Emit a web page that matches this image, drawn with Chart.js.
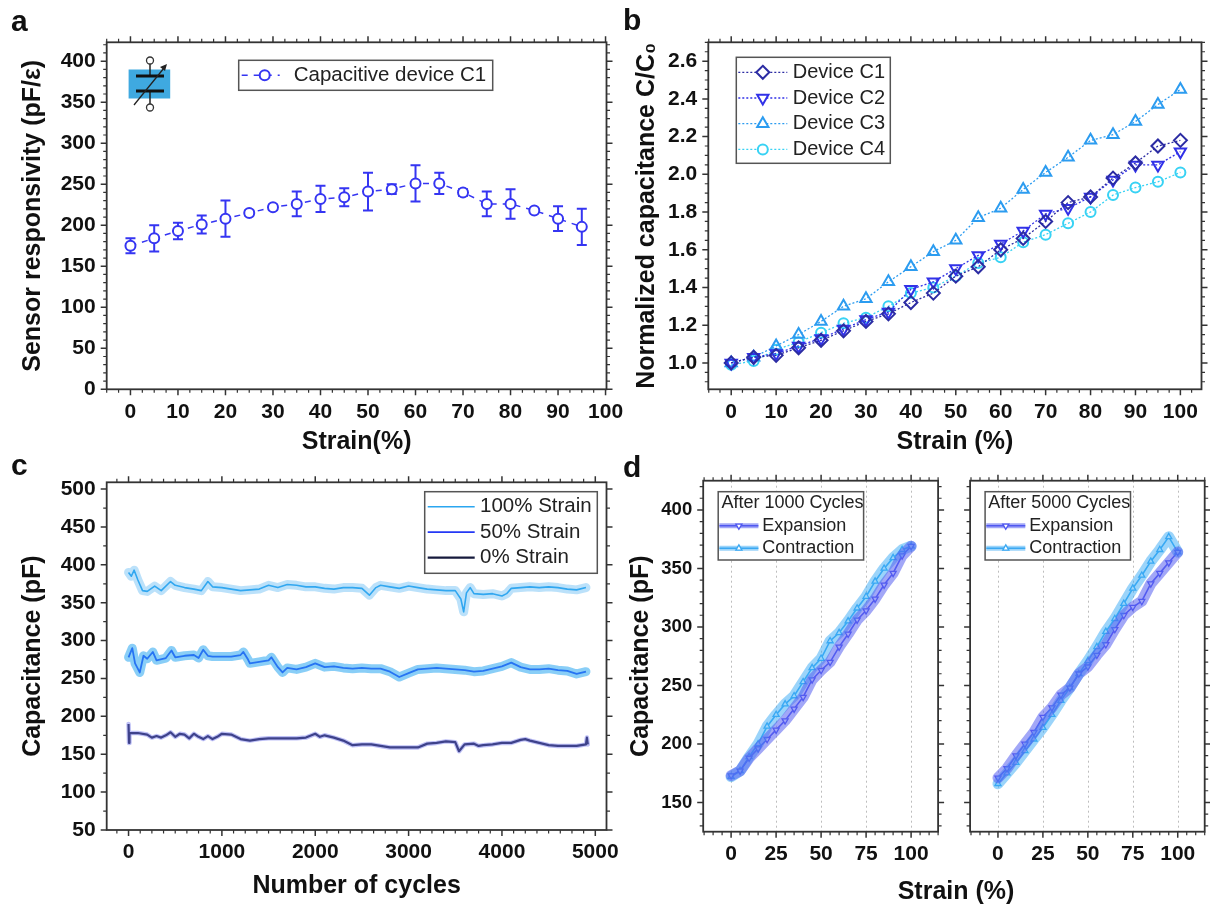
<!DOCTYPE html>
<html>
<head>
<meta charset="utf-8">
<script src="https://cdn.jsdelivr.net/npm/chart.js@4.4.0/dist/chart.umd.min.js"></script>
<style>
  body { margin: 0; background: #fff; }
  #fig { position: relative; width: 1210px; height: 904px; background: #fff; overflow: hidden;
         font-family: "Liberation Sans", Arial, sans-serif; color: #111; }
  canvas { position: absolute; }
  .letter { position: absolute; font-weight: bold; font-size: 30px; line-height: 1; }
  .xtitle { position: absolute; font-weight: bold; font-size: 25px; line-height: 1; transform: translate(-50%, -50%); white-space: nowrap; }
</style>
</head>
<body>
<div id="fig">
  <canvas id="chartA" width="640" height="470" style="left:0;top:0"></canvas>
  <canvas id="chartB" width="590" height="470" style="left:620px;top:0"></canvas>
  <canvas id="chartC" width="640" height="454" style="left:0;top:450px"></canvas>
  <canvas id="chartD1" width="330" height="454" style="left:620px;top:450px"></canvas>
  <canvas id="chartD2" width="260" height="454" style="left:950px;top:450px"></canvas>

  <div class="letter" style="left:11px;top:6px">a</div>
  <div class="letter" style="left:623px;top:5px">b</div>
  <div class="letter" style="left:11px;top:450px">c</div>
  <div class="letter" style="left:623px;top:452px">d</div>
  <div class="xtitle" style="left:956px;top:890px">Strain (%)</div>

  <!-- variable capacitor symbol -->
  <svg style="position:absolute;left:120px;top:50px" width="60" height="65" viewBox="120 50 60 65">
    <rect x="128.6" y="69.5" width="41.6" height="29" fill="#3fa9e0"/>
    <line x1="150" y1="64" x2="150" y2="76" stroke="#222" stroke-width="1.5"/>
    <line x1="150" y1="91" x2="150" y2="104" stroke="#222" stroke-width="1.5"/>
    <line x1="136" y1="76" x2="164" y2="76" stroke="#111" stroke-width="3"/>
    <line x1="136" y1="91" x2="164" y2="91" stroke="#111" stroke-width="3"/>
    <circle cx="150" cy="60.5" r="3.5" fill="#fff" stroke="#333" stroke-width="1.3"/>
    <circle cx="150" cy="107.5" r="3.5" fill="#fff" stroke="#333" stroke-width="1.3"/>
    <line x1="134" y1="105" x2="164" y2="68" stroke="#222" stroke-width="1.3"/>
    <polygon points="167,64 160,67 165,71" fill="#222"/>
  </svg>
</div>

<script>
// ---- panel a: sensor responsivity
const strainA = [0, 5, 10, 15, 20, 25, 30, 35, 40, 45, 50, 55, 60, 65, 70, 75, 80, 85, 90, 95];
const respA   = [175, 184, 193, 201, 208, 215, 222, 226, 232, 234, 241, 244, 251, 251, 240, 226, 226, 218, 208, 198];
const errA    = [9, 16, 10, 11, 22, 3, 3, 15, 16, 11, 23, 6, 22, 13, 4, 15, 18, 2, 15, 22];
const ticksAX = [0, 10, 20, 30, 40, 50, 60, 70, 80, 90, 100];
const ticksAY = [0, 50, 100, 150, 200, 250, 300, 350, 400];

// ---- panel b: normalized capacitance
const strainB = [0, 5, 10, 15, 20, 25, 30, 35, 40, 45, 50, 55, 60, 65, 70, 75, 80, 85, 90, 95, 100];
const devC1 = [1.00, 1.03, 1.04, 1.08, 1.12, 1.17, 1.22, 1.26, 1.32, 1.37, 1.46, 1.51, 1.60, 1.66, 1.75, 1.85, 1.88, 1.98, 2.06, 2.15, 2.18];
const devC2 = [1.00, 1.03, 1.05, 1.09, 1.13, 1.18, 1.23, 1.27, 1.39, 1.43, 1.50, 1.57, 1.63, 1.70, 1.79, 1.82, 1.88, 1.97, 2.05, 2.05, 2.12];
const devC3 = [1.00, 1.03, 1.09, 1.15, 1.22, 1.30, 1.34, 1.43, 1.51, 1.59, 1.65, 1.77, 1.82, 1.92, 2.01, 2.09, 2.18, 2.21, 2.28, 2.37, 2.45];
const devC4 = [0.99, 1.01, 1.07, 1.11, 1.16, 1.21, 1.24, 1.30, 1.37, 1.40, 1.46, 1.53, 1.56, 1.64, 1.68, 1.74, 1.80, 1.89, 1.93, 1.96, 2.01];
const ticksBX = [0, 10, 20, 30, 40, 50, 60, 70, 80, 90, 100];
const ticksBY = [1.0, 1.2, 1.4, 1.6, 1.8, 2.0, 2.2, 2.4, 2.6];

// ---- panel c: cycling
const cyc100 = [0, 30, 60, 100, 150, 200, 280, 350, 450, 500, 600, 700, 780, 850, 900, 1000, 1100, 1200, 1300, 1400,
                1500, 1600, 1700, 1800, 1900, 2000, 2100, 2200, 2300, 2400, 2500, 2580, 2650, 2700, 2800, 2900, 3000, 3100, 3200, 3300,
                3400, 3500, 3560, 3590, 3620, 3660, 3700, 3800, 3900, 4000, 4050, 4100, 4200, 4300, 4400, 4500, 4600, 4700, 4800, 4900];
const cap100 = [390, 385, 393, 380, 366, 365, 372, 366, 378, 373, 370, 368, 366, 378, 371, 370, 368, 366, 367, 368,
                373, 370, 374, 373, 371, 371, 369, 368, 370, 370, 369, 360, 370, 373, 371, 369, 372, 370, 368, 367,
                366, 366, 355, 338, 363, 370, 362, 361, 362, 359, 362, 369, 370, 371, 370, 371, 370, 368, 367, 370];
const cyc50 = [0, 40, 70, 120, 160, 200, 260, 300, 400, 460, 500, 600, 700, 750, 800, 850, 900, 1000, 1100, 1200,
               1230, 1280, 1300, 1400, 1500, 1530, 1600, 1650, 1700, 1800, 1900, 2000, 2100, 2200, 2300, 2400, 2500, 2600, 2700, 2800,
               2900, 3000, 3100, 3200, 3300, 3400, 3500, 3600, 3700, 3800, 3900, 4000, 4100, 4200, 4300, 4400, 4500, 4600, 4700, 4800, 4900];
const cap50 = [278, 290, 270, 258, 280, 276, 285, 274, 277, 287, 278, 280, 281, 277, 288, 280, 279, 279, 279, 281,
               285, 275, 270, 272, 274, 278, 265, 258, 264, 262, 265, 270, 265, 266, 264, 263, 264, 263, 263, 259,
               252, 257, 262, 263, 264, 263, 262, 261, 259, 260, 263, 266, 271, 265, 262, 262, 263, 261, 260, 256, 259];
const cyc0 = [0, 5, 10, 100, 200, 250, 300, 350, 400, 450, 500, 550, 600, 650, 700, 750, 800, 850, 900, 950,
              1000, 1100, 1200, 1300, 1400, 1500, 1600, 1700, 1800, 1900, 2000, 2050, 2100, 2200, 2300, 2400, 2500, 2600, 2700, 2800,
              2900, 3000, 3100, 3200, 3300, 3400, 3500, 3540, 3600, 3700, 3750, 3800, 3900, 4000, 4100, 4200, 4250, 4300, 4400, 4500,
              4600, 4700, 4800, 4900, 4910, 4920];
const cap0 = [190, 165, 178, 178, 176, 172, 174, 172, 175, 179, 173, 177, 176, 171, 177, 173, 170, 174, 170, 173,
              177, 176, 170, 168, 170, 171, 171, 171, 171, 172, 177, 173, 175, 172, 168, 162, 163, 163, 161, 159,
              159, 159, 159, 164, 165, 167, 166, 154, 163, 164, 161, 162, 163, 165, 165, 169, 170, 168, 165, 162,
              161, 161, 161, 163, 172, 163];
const ticksCX = [0, 1000, 2000, 3000, 4000, 5000];
const ticksCY = [50, 100, 150, 200, 250, 300, 350, 400, 450, 500];

// ---- panel d: hysteresis
const strainD = [0, 5, 10, 15, 20, 25, 30, 35, 40, 45, 50, 55, 60, 65, 70, 75, 80, 85, 90, 95, 100];
const exp1000 = [173, 177, 188, 196, 204, 212, 220, 230, 240, 255, 263, 270, 283, 294, 306, 314, 324, 336, 346, 361, 369];
const con1000 = [172, 177, 189, 200, 215, 225, 234, 241, 253, 265, 273, 288, 295, 305, 316, 326, 339, 350, 359, 366, 369];
const exp5000 = [171, 179, 190, 200, 210, 223, 231, 242, 248, 260, 266, 276, 285, 298, 310, 317, 322, 337, 346, 355, 364];
const con5000 = [166, 175, 184, 194, 204, 214, 225, 237, 248, 260, 271, 283, 296, 307, 320, 333, 344, 356, 366, 377, 364];
const ticksDX = [0, 25, 50, 75, 100];
const ticksDY = [150, 200, 250, 300, 350, 400];

Chart.defaults.font.family = "'Liberation Sans', Arial, sans-serif";
Chart.defaults.color = '#111';

const pts = (xs, ys) => xs.map((x, i) => ({x: x, y: ys[i]}));

function drawMarker(ctx, style, rot, x, y, r) {
  ctx.beginPath();
  if (style === 'circle') {
    ctx.arc(x, y, r, 0, Math.PI * 2);
  } else if (style === 'rectRot') {
    ctx.moveTo(x, y - r); ctx.lineTo(x + r, y); ctx.lineTo(x, y + r); ctx.lineTo(x - r, y); ctx.closePath();
  } else {
    let a = (rot || 0) * Math.PI / 180;
    ctx.moveTo(x + Math.sin(a) * r, y - Math.cos(a) * r);
    for (let k = 0; k < 2; k++) {
      a += Math.PI * 2 / 3;
      ctx.lineTo(x + Math.sin(a) * r, y - Math.cos(a) * r);
    }
    ctx.closePath();
  }
}

// frame around plot area + major/minor ticks on all four sides
function frameTicks(xMinor, yMinor, vgrid) {
  return {
    id: 'frameTicks',
    beforeDatasetsDraw(chart) {
      if (!vgrid) return;
      const {ctx, chartArea: a, scales: {x}} = chart;
      ctx.save();
      ctx.strokeStyle = '#bdbdbd'; ctx.lineWidth = 1; ctx.setLineDash([2, 3]);
      x.ticks.forEach(t => {
        const px = Math.round(x.getPixelForValue(t.value)) + 0.5;
        ctx.beginPath(); ctx.moveTo(px, a.top); ctx.lineTo(px, a.bottom); ctx.stroke();
      });
      ctx.restore();
    },
    afterDatasetsDraw(chart) {
      const {ctx, chartArea: a, scales: {x, y}} = chart;
      ctx.save();
      ctx.strokeStyle = '#333';
      const marks = (scale, step, len, horiz) => {
        const majors = scale.ticks.map(t => t.value);
        const vals = [];
        if (len > 4) vals.push(...majors);
        else {
          for (let k = Math.ceil(scale.min / step - 1e-9); k * step <= scale.max + 1e-9; k++) {
            const v = k * step;
            if (!majors.some(m => Math.abs(m - v) < step * 1e-3)) vals.push(v);
          }
        }
        vals.forEach(v => {
          const p = scale.getPixelForValue(v);
          ctx.beginPath();
          if (horiz) {
            ctx.moveTo(p, a.bottom); ctx.lineTo(p, a.bottom + len);
            ctx.moveTo(p, a.top); ctx.lineTo(p, a.top - len);
          } else {
            ctx.moveTo(a.left, p); ctx.lineTo(a.left - len, p);
            ctx.moveTo(a.right, p); ctx.lineTo(a.right + len, p);
          }
          ctx.stroke();
        });
      };
      ctx.lineWidth = 1.5;
      marks(x, 0, 6, true); marks(y, 0, 6, false);
      ctx.lineWidth = 1.2;
      marks(x, xMinor, 3.5, true); marks(y, yMinor, 3.5, false);
      ctx.lineWidth = 1.8;
      ctx.strokeRect(a.left, a.top, a.right - a.left, a.bottom - a.top);
      ctx.restore();
    }
  };
}

// boxed legend placed inside the plot area
function boxLegend(cfg) {
  return {
    id: 'boxLegend',
    afterDraw(chart) {
      const {ctx, chartArea} = chart;
      const x0 = chartArea.left + cfg.x, y0 = chartArea.top + cfg.y;
      ctx.save();
      ctx.fillStyle = '#fff';
      ctx.fillRect(x0, y0, cfg.w, cfg.h);
      ctx.strokeStyle = '#555'; ctx.lineWidth = 1.5;
      ctx.strokeRect(x0, y0, cfg.w, cfg.h);
      ctx.font = cfg.font;
      ctx.textBaseline = 'middle';
      let row = 0;
      if (cfg.title) {
        ctx.fillStyle = '#222';
        ctx.fillText(cfg.title, x0 + cfg.titleX, y0 + cfg.rowY);
        row = 1;
      }
      cfg.items.forEach((it, i) => {
        const ds = chart.data.datasets[it.ds];
        const y = y0 + cfg.rowY + (row + i) * cfg.rowH;
        const lx0 = x0 + cfg.lineX0, lx1 = x0 + cfg.lineX1;
        if (it.band !== undefined) {
          const b = chart.data.datasets[it.band];
          ctx.strokeStyle = b.borderColor; ctx.lineWidth = 5;
          ctx.beginPath(); ctx.moveTo(lx0, y); ctx.lineTo(lx1, y); ctx.stroke();
        }
        ctx.strokeStyle = ds.borderColor;
        ctx.lineWidth = ds.borderWidth;
        ctx.setLineDash(ds.borderDash || []);
        ctx.beginPath(); ctx.moveTo(lx0, y); ctx.lineTo(lx1, y); ctx.stroke();
        ctx.setLineDash([]);
        if (ds.pointRadius > 0) {
          drawMarker(ctx, ds.pointStyle, ds.pointRotation, x0 + cfg.markX, y, ds.pointRadius);
          ctx.fillStyle = '#fff'; ctx.fill();
          ctx.strokeStyle = ds.pointBorderColor; ctx.lineWidth = ds.pointBorderWidth;
          ctx.stroke();
        }
        ctx.fillStyle = '#222';
        ctx.fillText(ds.label, x0 + cfg.textX, y);
      });
      ctx.restore();
    }
  };
}

// error bars for panel a
const errorBars = {
  id: 'errorBars',
  beforeDatasetsDraw(chart) {
    const {ctx, scales: {x, y}} = chart;
    ctx.save();
    ctx.strokeStyle = '#3535f2'; ctx.lineWidth = 2;
    strainA.forEach((s, i) => {
      const px = x.getPixelForValue(s);
      const top = y.getPixelForValue(respA[i] + errA[i]);
      const bot = y.getPixelForValue(respA[i] - errA[i]);
      ctx.beginPath();
      ctx.moveTo(px, top); ctx.lineTo(px, bot);
      ctx.moveTo(px - 5, top); ctx.lineTo(px + 5, top);
      ctx.moveTo(px - 5, bot); ctx.lineTo(px + 5, bot);
      ctx.stroke();
    });
    ctx.restore();
  }
};

function xAxis(min, max, ticks, height, title, tickSize, tickPad, titlePad) {
  return {
    type: 'linear', min: min, max: max,
    afterBuildTicks: s => { s.ticks = ticks.map(v => ({value: v})); },
    afterFit: s => { s.height = height; },
    grid: {display: false, drawTicks: false},
    border: {display: false},
    ticks: {font: {size: tickSize, weight: 'bold'}, padding: tickPad, maxRotation: 0, autoSkip: false, callback: v => String(v)},
    title: {display: !!title, text: title, font: {size: 25, weight: 'bold', lineHeight: 1}, padding: {top: 0, bottom: titlePad}}
  };
}

function yAxis(min, max, ticks, width, title, tickSize, titlePad, fmt) {
  return {
    type: 'linear', min: min, max: max,
    afterBuildTicks: s => { s.ticks = ticks.map(v => ({value: v})); },
    afterFit: s => { s.width = width; },
    grid: {display: false, drawTicks: false},
    border: {display: false},
    ticks: {display: tickSize > 0, font: {size: tickSize, weight: 'bold'}, padding: 11, autoSkip: false, callback: fmt || (v => String(v))},
    title: {display: !!title, text: title, font: {size: 25, weight: 'bold', lineHeight: 1}, padding: {top: titlePad, bottom: 0}}
  };
}

const base = {responsive: false, animation: false, devicePixelRatio: 1,
              plugins: {legend: {display: false}, tooltip: {enabled: false}}};

// ---------- a
new Chart(document.getElementById('chartA'), {
  type: 'line',
  data: {
    datasets: [{
      label: 'Capacitive device C1',
      data: pts(strainA, respA),
      borderColor: '#3535f2', borderWidth: 1.5, borderDash: [6, 6],
      pointStyle: 'circle', pointRadius: 5, pointBorderWidth: 2,
      pointBorderColor: '#3535f2', pointBackgroundColor: '#fff'
    }]
  },
  options: Object.assign({}, base, {
    layout: {padding: {left: 0, top: 42.3, right: 33.5, bottom: 0}},
    scales: {
      x: xAxis(-5, 100.2, ticksAX, 80.7, 'Strain(%)', 21, 10, 15.5),
      y: yAxis(0, 423, ticksAY, 106.7, 'Sensor responsivity (pF/\u03B5)', 21, 20.5)
    }
  }),
  plugins: [errorBars, frameTicks(2.5, 10), boxLegend({
    x: 132, y: 18, w: 254, h: 30, rowY: 15, rowH: 0,
    lineX0: 3, lineX1: 41, markX: 26, textX: 55, font: "20.5px 'Liberation Sans', Arial",
    items: [{ds: 0}]
  })]
});

// ---------- b
const bStyle = (label, data, color, style, rot, r) => ({
  label: label, data: pts(strainB, data),
  borderColor: color, borderWidth: 1.3, borderDash: [2, 2],
  pointStyle: style, pointRotation: rot, pointRadius: r, pointBorderWidth: 2,
  pointBorderColor: color, pointBackgroundColor: 'rgba(255,255,255,0)'
});
new Chart(document.getElementById('chartB'), {
  type: 'line',
  data: {
    datasets: [
      bStyle('Device C1', devC1, '#2c2ca3', 'rectRot', 0, 6.5),
      bStyle('Device C2', devC2, '#3131e8', 'triangle', 180, 6.5),
      bStyle('Device C3', devC3, '#2c9cf0', 'triangle', 0, 6.5),
      bStyle('Device C4', devC4, '#38d2f4', 'circle', 0, 5)
    ]
  },
  options: Object.assign({}, base, {
    layout: {padding: {left: 0, top: 42.3, right: 2.3, bottom: 0}},
    scales: {
      x: xAxis(-5.1, 104.7, ticksBX, 80.7, 'Strain (%)', 21, 10, 15.5),
      y: yAxis(0.86, 2.7, ticksBY, 88.3, 'Normalized capacitance C/C\u2080', 21, 14.2, v => v.toFixed(1))
    }
  }),
  plugins: [frameTicks(2.5, 0.05), boxLegend({
    x: 28, y: 15, w: 154, h: 106, rowY: 15, rowH: 25.7,
    lineX0: 2, lineX1: 51, markX: 26.5, textX: 56.5, font: "20px 'Liberation Sans', Arial",
    items: [{ds: 0}, {ds: 1}, {ds: 2}, {ds: 3}]
  })]
});

// ---------- c
const band = (xs, ys, color, w) => ({
  label: '', data: pts(xs, ys), borderColor: color, borderWidth: w,
  borderCapStyle: 'round', borderJoinStyle: 'round', pointRadius: 0
});
const trace = (label, xs, ys, color, w) => ({
  label: label, data: pts(xs, ys), borderColor: color, borderWidth: w,
  borderJoinStyle: 'round', pointRadius: 0
});
new Chart(document.getElementById('chartC'), {
  type: 'line',
  data: {
    datasets: [
      band(cyc100, cap100, 'rgba(60,170,240,0.35)', 9),
      trace('100% Strain', cyc100, cap100, '#2ba6f0', 1.6),
      band(cyc50, cap50, 'rgba(40,165,240,0.55)', 9),
      trace('50% Strain', cyc50, cap50, '#2438f5', 1.8),
      band(cyc0, cap0, 'rgba(110,115,235,0.45)', 4.5),
      trace('0% Strain', cyc0, cap0, '#161a3c', 2.2)
    ]
  },
  options: Object.assign({}, base, {
    layout: {padding: {left: 0, top: 32.3, right: 33.5, bottom: 0}},
    scales: {
      x: xAxis(-234, 5120, ticksCX, 74, 'Number of cycles', 21, 10, 5.5),
      y: yAxis(50, 509, ticksCY, 106.7, 'Capacitance (pF)', 21, 20.5)
    }
  }),
  plugins: [frameTicks(125, 25), boxLegend({
    x: 318, y: 9.4, w: 172.6, h: 81.6, rowY: 15, rowH: 25.5,
    lineX0: 3, lineX1: 50, markX: 0, textX: 55.3, font: "20.5px 'Liberation Sans', Arial",
    items: [{ds: 1}, {ds: 3}, {ds: 5}]
  })]
});

// ---------- d
const dTrace = (label, data, color, rot) => ({
  label: label, data: pts(strainD, data), borderColor: color, borderWidth: 1.6,
  pointStyle: 'triangle', pointRotation: rot, pointRadius: 3.5, pointBorderWidth: 1.3,
  pointBorderColor: color, pointBackgroundColor: '#fff'
});
function dChart(id, exp, con, title, yTitle, leftW, rightPad) {
  return new Chart(document.getElementById(id), {
    type: 'line',
    data: {
      datasets: [
        band(strainD, exp, 'rgba(85,95,240,0.55)', 11),
        band(strainD, con, 'rgba(55,170,245,0.5)', 11),
        dTrace('Expansion', exp, '#5058f0', 180),
        dTrace('Contraction', con, '#3aa8f2', 0)
      ]
    },
    options: Object.assign({}, base, {
      layout: {padding: {left: 0, top: 30.7, right: rightPad, bottom: 0}},
      scales: {
        x: xAxis(-15.5, 115, ticksDX, 72.3, '', 21, 10, 0),
        y: yAxis(125, 425, ticksDY, leftW, yTitle, yTitle ? 18.5 : 0, 8.4)
      }
    }),
    plugins: [frameTicks(5, 10, true), boxLegend({
      x: 15, y: 11, w: 145.4, h: 68.3, rowY: 11.6, rowH: 22.5, title: title, titleX: 3.2,
      lineX0: 1.2, lineX1: 40.2, markX: 20.7, textX: 44.1, font: "18px 'Liberation Sans', Arial",
      items: [{ds: 2, band: 0}, {ds: 3, band: 1}]
    })]
  });
}
dChart('chartD1', exp1000, con1000, 'After 1000 Cycles', 'Capacitance (pF)', 83.2, 11.9);
dChart('chartD2', exp5000, con5000, 'After 5000 Cycles', '', 20.1, 2.3);
</script>
</body>
</html>
